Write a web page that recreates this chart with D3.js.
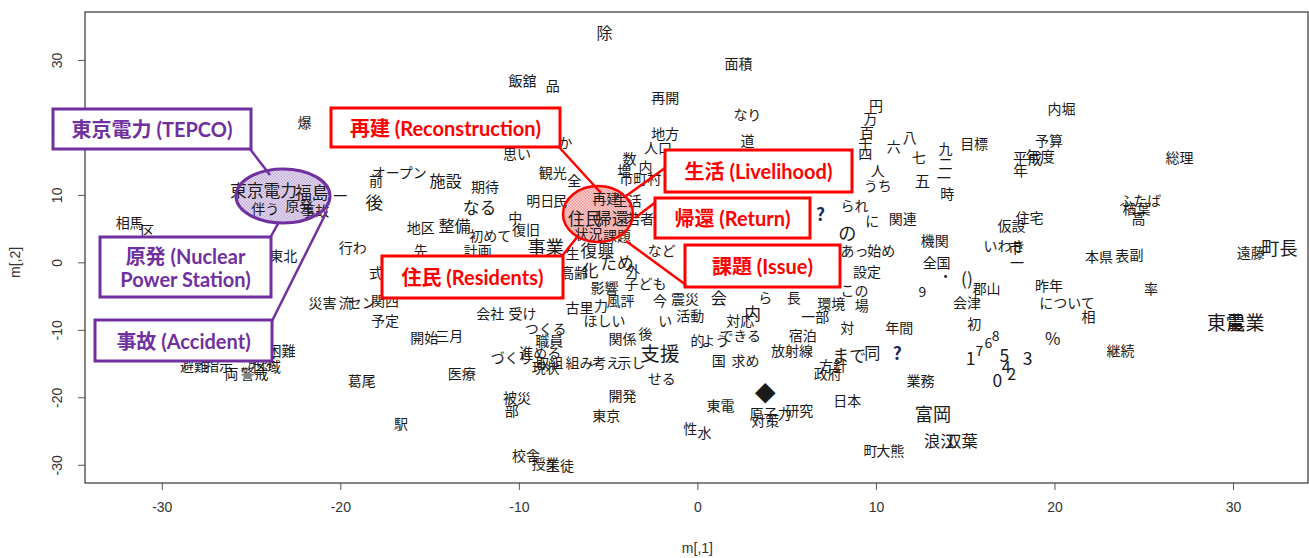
<!DOCTYPE html>
<html>
<head>
<meta charset="utf-8">
<script src="https://d3js.org/d3.v7.min.js"></script>
<style>
  body { margin: 0; background: #fff; }
  svg { display: block; }
</style>
</head>
<body>
<div id="chart"></div>
<script>
const W = 1309, H = 558;

// correspondence analysis coordinates
const terms = ["除","飯舘","品","再開","面積","なり","道","地方","人口","数","増","内","市町村",
  "円","万","百","千","四","人","うち","六","八","七","五","九","二","一","時","目標",
  "内堀","予算","年度","平成","年","総理","ふたば","楢葉","高","住宅","仮設","いわき","市","一",
  "本県","表","副","遠藤","町長","率","昨年","について","相","東電","農業","継続",
  "%","3","5","4","2","0","1","7","6","8","9","業務","富岡","浪江","双葉","町","大熊",
  "日本","政府","方針","まで","同","?","?","放射線","宿泊","一部","環境","場","この","設定",
  "あっ","始め","の","られ","に","関連","機関","全国","・","()","郡山","会津","初","年間","対",
  "長","ら","会","対応","内","できる","よう","的","国","求め","◆","東電","原子力","研究","対策",
  "性","水","支援","せる","関係","後","考え","示し","開発","東京","職員","進める","取組","現状",
  "組み","づくり","つくる","会社","受け","古里","力","ほしい","影響","風評","外","子ども","今",
  "震災","活動","い","など","開始","三月","医療","葛尾","駅","被災","部","校舎","授業","生徒",
  "予定","関西","式","災害","流","セン","行わ","前","後","オープン","施設","期待","なる","地区",
  "整備","中","初めて","復旧","事業","計画","先","観光","全","明日","民","か","思い",
  "困難","避難","指示","解除","両","警戒","区域","相馬","区","東北","爆",
  "東京電力","福島","伴う","原発","事故","一",
  "再建","生活","住民","帰還","若者","状況","課題","復興","生","化","ため","高齢"];

const dim1 = [-5.2,-9.8,-8.1,-1.8,2.3,2.8,2.8,-1.8,-2.2,-3.8,-4.1,-2.9,-3.2,
  10.0,9.7,9.5,9.4,9.4,10.1,10.1,11.0,11.9,12.4,12.6,13.9,13.9,13.8,14.0,15.5,
  20.4,19.7,19.2,18.5,18.1,27.0,24.8,24.6,24.7,18.6,17.6,17.2,17.8,17.9,
  22.5,23.8,24.6,31.0,32.6,25.4,19.7,20.7,21.9,29.6,30.7,23.7,
  19.9,18.5,17.2,17.3,17.6,16.8,15.3,15.8,16.3,16.7,12.6,12.5,13.2,13.6,14.8,9.7,10.8,
  8.4,7.3,7.6,8.5,9.8,11.2,6.9,5.3,5.9,6.6,7.5,9.2,8.8,9.5,
  8.8,10.3,8.4,8.8,9.8,11.5,13.3,13.4,13.9,15.1,16.2,15.1,15.5,11.3,8.4,
  5.4,3.8,1.2,2.4,3.1,2.4,1.0,0.0,1.2,2.7,3.8,1.3,4.1,5.7,3.8,
  -0.4,0.4,-2.1,-2.0,-4.2,-2.9,-5.1,-3.7,-4.2,-5.1,-8.3,-8.8,-8.3,-8.5,
  -6.6,-10.4,-8.5,-11.6,-9.8,-6.6,-5.4,-5.2,-5.2,-4.3,-3.6,-2.9,-2.1,
  -0.7,-0.4,-1.8,-2.0,-15.3,-13.9,-13.2,-18.8,-16.6,-10.1,-10.4,-9.6,-8.5,-7.7,
  -17.5,-17.5,-18.0,-21.0,-19.7,-18.8,-19.3,-18.0,-18.1,-16.7,-14.1,-11.9,-12.2,-15.5,
  -13.6,-10.2,-11.6,-9.6,-8.5,-12.3,-15.5,-8.1,-6.9,-8.8,-7.7,-7.4,-10.1,
  -23.3,-28.2,-26.8,-24.4,-26.1,-24.8,-24.1,-31.8,-30.8,-23.2,-22.0,
  -24.3,-21.6,-24.2,-22.3,-21.4,-20.0,
  -5.1,-3.9,-6.3,-4.8,-3.2,-6.1,-4.5,-5.6,-7.0,-6.0,-4.5,-6.9];

const dim2 = [34.1,27.0,26.3,24.5,29.6,22.0,18.1,19.2,17.1,15.5,13.7,14.3,12.5,
  23.3,21.4,19.3,17.7,16.2,13.7,11.5,17.3,18.6,15.6,12.2,17.0,14.7,12.7,10.3,17.7,
  22.9,18.1,15.9,15.5,13.7,15.6,9.3,8.1,6.6,6.7,5.6,2.6,2.3,0.0,
  1.0,1.1,1.3,1.6,2.3,-3.8,-3.3,-5.9,-7.9,-8.8,-8.8,-13.0,
  -11.2,-14.1,-13.7,-15.3,-16.4,-17.3,-14.1,-13.0,-11.8,-10.7,-4.2,-17.4,-22.4,-26.4,-26.3,-27.8,-27.8,
  -20.4,-16.4,-15.2,-13.7,-13.3,-13.3,7.2,-13.0,-10.7,-7.9,-6.0,-6.3,-4.1,-1.3,
  1.9,1.9,4.5,8.5,6.3,6.6,3.3,0.1,-1.9,-2.3,-3.8,-5.9,-9.0,-9.6,-9.6,
  -5.1,-5.1,-5.1,-8.5,-7.5,-10.7,-11.5,-11.5,-14.4,-14.4,-19.2,-21.1,-22.3,-21.9,-23.3,
  -24.5,-25.1,-13.3,-17.1,-11.2,-10.4,-14.7,-14.7,-19.6,-22.6,-11.5,-13.3,-14.7,-15.5,
  -14.7,-14.0,-9.7,-7.5,-7.5,-6.6,-6.3,-8.5,-3.6,-5.6,-1.1,-3.0,-5.6,
  -5.3,-7.8,-8.5,1.9,-11.0,-10.7,-16.4,-17.4,-23.8,-19.9,-21.9,-28.5,-29.7,-30.0,
  -8.5,-5.6,-1.4,-5.9,-5.9,-5.9,2.3,12.2,9.0,13.4,12.2,11.3,8.2,5.3,
  5.6,6.7,4.1,5.0,2.4,1.9,1.9,13.4,12.2,9.3,9.3,17.9,16.2,
  -13.0,-15.2,-15.2,-14.4,-16.4,-16.4,-15.3,6.0,4.8,1.1,20.8,
  10.7,10.4,8.1,8.5,7.8,10.0,
  9.6,9.3,6.6,6.6,6.6,4.4,4.1,1.9,1.4,-1.1,0.1,-1.4];

// character expansion (cex) per term
const cex = [1.15,1,1,1,1,1,1,1,1,1,1,1,1,
  1,1,1,1,1,1,1,1,1,1,1.1,1,1,1,1,1,
  1,1,1.05,1.05,1.05,1,1,1,1,1,1,1,1,1,
  1,1,1,1,1.3,1,1,1,1,1.35,1.35,1,
  1.2,1.25,1.25,1.15,1.15,1.25,1.25,1,1,1,1,1,1.3,1.15,1.15,1,1,
  1,1,1,1.2,1.15,1.25,1.25,1,1,1,1,1,1,1,
  1,1,1.3,1,1,1,1,1,1,1.25,1,1,1,1,1,
  1,1,1.15,1,1.2,1,1,1,1,1,1.5,1,1,1,1,
  1,1,1.4,1,1,1,1,1,1,1,1,1,1,1,
  1,1,1,1,1,1,1,1,1,1,1,1,1,
  1,1,1,1,1,1,1,1,1,1,1,1,1,1,
  1,1,1,1,1,1,1,1,1.25,1,1.15,1,1.2,1,
  1.15,1,1,1,1.3,1,1,1,1,1,1,1,1,
  1,1,1,1,1,1,1,1,1,1,1,
  1.2,1.2,1,1,1,1,
  1,1,1.2,1.2,1,1,1,1.2,1,1.2,1.2,1];

const xTicks = [-30, -20, -10, 0, 10, 20, 30];
const yTicks = [-30, -20, -10, 0, 10, 20, 30];

const plot = {left: 85, right: 1308, top: 12, bottom: 483};

const x = d3.scaleLinear().domain([-34.3, 34.2]).range([plot.left, plot.right]);
const y = d3.scaleLinear().domain([-32.7, 37.1]).range([plot.bottom, plot.top]);

const svg = d3.select("#chart").append("svg")
  .attr("width", W).attr("height", H)
  .attr("viewBox", [0, 0, W, H]);

// hatch patterns for the highlighted ellipses
const defs = svg.append("defs");
const mkPattern = (id, bg, dot) => {
  const p = defs.append("pattern").attr("id", id)
    .attr("width", 3).attr("height", 3).attr("patternUnits", "userSpaceOnUse");
  p.append("rect").attr("width", 3).attr("height", 3).attr("fill", bg);
  p.append("rect").attr("width", 1.5).attr("height", 1.5).attr("fill", dot);
  p.append("rect").attr("x", 1.5).attr("y", 1.5).attr("width", 1.5).attr("height", 1.5).attr("fill", dot);
};
mkPattern("hatchPurple", "#e6dcf0", "#c4aedb");
mkPattern("hatchRed", "#fbd0d0", "#f29a9a");

// axes (R prints a plain hyphen for negatives)
const xAxis = g => g
  .attr("transform", `translate(0,${plot.bottom})`)
  .call(d3.axisBottom(x).tickValues(xTicks).tickFormat(d => String(d))
    .tickSize(7).tickSizeOuter(0).tickPadding(12))
  .call(g => g.select(".domain").remove());

const yAxis = g => g
  .attr("transform", `translate(${plot.left},0)`)
  .call(d3.axisLeft(y).tickValues(yTicks).tickFormat(d => String(d))
    .tickSize(7).tickSizeOuter(0))
  .call(g => g.select(".domain").remove())
  .call(g => g.selectAll(".tick text")
    .attr("x", 0).attr("dy", null)
    .attr("text-anchor", "middle")
    .attr("dominant-baseline", "central")
    .attr("transform", "translate(-28,0) rotate(-90)"));

svg.append("g").call(xAxis);
svg.append("g").call(yAxis);
svg.selectAll(".tick line").attr("stroke", "#555");
svg.selectAll(".tick text")
  .attr("font-family", "Liberation Sans, Arial, sans-serif")
  .attr("font-size", 14).attr("fill", "#333");

// frame
svg.append("rect")
  .attr("x", plot.left).attr("y", plot.top)
  .attr("width", plot.right - plot.left).attr("height", plot.bottom - plot.top)
  .attr("fill", "none").attr("stroke", "#444").attr("stroke-width", 1.3);

svg.append("text")
  .attr("x", x(0)).attr("y", 553)
  .attr("text-anchor", "middle")
  .attr("font-family", "Liberation Sans, Arial, sans-serif")
  .attr("font-size", 14).attr("fill", "#333")
  .text("m[,1]");

svg.append("text")
  .attr("transform", `translate(20,${y(0)}) rotate(-90)`)
  .attr("text-anchor", "middle")
  .attr("font-family", "Liberation Sans, Arial, sans-serif")
  .attr("font-size", 14).attr("fill", "#333")
  .text("m[,2]");

// highlight ellipses: fill under the words, outline on top
const purple = "#7030a0", red = "#ff0000";
const ellipses = [
  {cx: 283, cy: 196, rx: 47, ry: 27, fill: "url(#hatchPurple)", col: purple, sw: 3},
  {cx: 598, cy: 214, rx: 35, ry: 28, fill: "url(#hatchRed)", col: red, sw: 2.5}
];
svg.append("g").selectAll("ellipse").data(ellipses).join("ellipse")
  .attr("cx", d => d.cx).attr("cy", d => d.cy).attr("rx", d => d.rx).attr("ry", d => d.ry)
  .attr("fill", d => d.fill);

// words
const words = terms.map((t, i) => ({t, d1: dim1[i], d2: dim2[i], c: cex[i]}));

svg.append("g")
  .selectAll("text")
  .data(words)
  .join("text")
    .attr("x", d => x(d.d1))
    .attr("y", d => y(d.d2))
    .attr("text-anchor", "middle")
    .attr("dominant-baseline", "central")
    .attr("font-family", "'Noto Sans CJK JP', sans-serif")
    .attr("font-size", d => 14 * d.c)
    .attr("font-weight", d => d.t === "?" ? 700 : 400)
    .attr("fill", d => d.t === "?" ? "#1a2a55" : "#1a1a1a")
    .text(d => d.t);

svg.append("g").selectAll("ellipse").data(ellipses).join("ellipse")
  .attr("cx", d => d.cx).attr("cy", d => d.cy).attr("rx", d => d.rx).attr("ry", d => d.ry)
  .attr("fill", "none").attr("stroke", d => d.col).attr("stroke-width", d => d.sw);

// callouts
const callouts = [
  {lines: ["東京電力 (TEPCO)"], box: [53, 109, 198, 40], lead: [250, 149, 270, 175], col: purple},
  {lines: ["原発 (Nuclear", "Power Station)"], box: [100, 237, 171, 60], lead: [270, 238, 279, 222], col: purple},
  {lines: ["事故 (Accident)"], box: [95, 320, 177, 41], lead: [272, 321, 327, 211], col: purple},
  {lines: ["再建 (Reconstruction)"], box: [331, 108, 229, 39], lead: [558, 146, 601, 193], col: red},
  {lines: ["生活 (Livelihood)"], box: [665, 150, 187, 42], lead: [665, 168, 626, 196], col: red},
  {lines: ["帰還 (Return)"], box: [655, 198, 155, 40], lead: [657, 201, 635, 218], col: red},
  {lines: ["課題 (Issue)"], box: [685, 245, 155, 42], lead: [686, 285, 626, 241], col: red},
  {lines: ["住民 (Residents)"], box: [382, 256, 181, 42], lead: [562, 256, 578, 236], col: red}
];

const cg = svg.append("g");
callouts.forEach(c => {
  const [bx, by, bw, bh] = c.box;
  cg.append("line")
    .attr("x1", c.lead[0]).attr("y1", c.lead[1]).attr("x2", c.lead[2]).attr("y2", c.lead[3])
    .attr("stroke", c.col).attr("stroke-width", 2.5);
  cg.append("rect")
    .attr("x", bx).attr("y", by).attr("width", bw).attr("height", bh)
    .attr("fill", "#fff").attr("stroke", c.col).attr("stroke-width", 3);
  const n = c.lines.length;
  c.lines.forEach((l, i) => {
    cg.append("text")
      .attr("x", bx + bw / 2)
      .attr("y", by + bh / 2 + (i - (n - 1) / 2) * 23)
      .attr("text-anchor", "middle")
      .attr("dominant-baseline", "central")
      .attr("font-family", "Lato, 'Noto Sans CJK JP', sans-serif")
      .attr("font-weight", 700)
      .attr("font-size", 20)
      .attr("fill", c.col)
      .text(l);
  });
});
</script>
</body>
</html>
